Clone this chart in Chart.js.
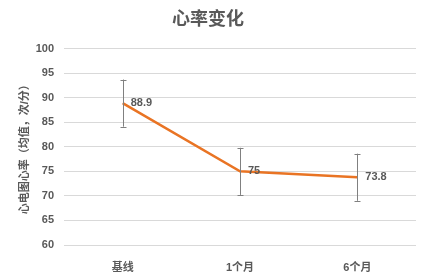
<!DOCTYPE html>
<html><head><meta charset="utf-8">
<script src="https://cdn.jsdelivr.net/npm/chart.js@4"></script>
<style>html,body{margin:0;padding:0;background:#fff}#w{width:425px;height:277px}</style>
</head><body><div id="w"><canvas id="c"></canvas></div>
<script>
const categories = ['基线', '1个月', '6个月'];
const meanValues = [88.9, 75, 73.8];
const errorValues = [4.8, 4.8, 4.8];
const yTicks = [60, 65, 70, 75, 80, 85, 90, 95, 100];

const FONT = '"Liberation Sans", "Noto Sans CJK SC", sans-serif';
const GRAY = '#595959';

const errorBarPlugin = {
  id: 'errorBars',
  afterDatasetsDraw(chart) {
    const ctx = chart.ctx, meta = chart.getDatasetMeta(0), y = chart.scales.y;
    ctx.save();
    ctx.strokeStyle = '#808080';
    ctx.lineWidth = 1;
    meta.data.forEach((pt, i) => {
      const x = Math.round(pt.x) + 0.5;
      const top = y.getPixelForValue(meanValues[i] + errorValues[i]);
      const bot = y.getPixelForValue(meanValues[i] - errorValues[i]);
      ctx.beginPath();
      ctx.moveTo(x, top); ctx.lineTo(x, bot);
      ctx.moveTo(x - 3, Math.round(top) + 0.5); ctx.lineTo(x + 3, Math.round(top) + 0.5);
      ctx.moveTo(x - 3, Math.round(bot) + 0.5); ctx.lineTo(x + 3, Math.round(bot) + 0.5);
      ctx.stroke();
    });
    ctx.fillStyle = GRAY;
    ctx.font = 'bold 11px ' + FONT;
    ctx.textBaseline = 'middle';
    ctx.textAlign = 'left';
    meta.data.forEach((pt, i) => {
      ctx.fillText(String(meanValues[i]), pt.x + 8, pt.y);
    });
    ctx.restore();
  }
};

new Chart(document.getElementById('c'), {
  type: 'line',
  data: {
    labels: categories,
    datasets: [{
      data: meanValues,
      borderColor: '#E97424',
      borderWidth: 2.5,
      pointRadius: 0,
      tension: 0,
      fill: false
    }]
  },
  options: {
    responsive: true,
    maintainAspectRatio: false,
    animation: false,
    layout: { padding: { left: 0, right: 9, top: 0, bottom: 0 } },
    plugins: {
      legend: { display: false },
      tooltip: { enabled: false },
      title: {
        display: true,
        text: '心率变化',
        color: GRAY,
        font: { family: FONT, size: 18, weight: 'bold' },
        padding: { top: 9, bottom: 18 }
      }
    },
    scales: {
      x: {
        offset: true,
        grid: { display: false },
        border: { display: false },
        ticks: { color: GRAY, font: { family: FONT, size: 11, weight: 'bold' }, padding: 8 },
        afterFit(s) { s.height = 32; }
      },
      y: {
        min: 60, max: 100,
        afterBuildTicks(s) { s.ticks = yTicks.map(v => ({ value: v })); },
        grid: { color: '#D9D9D9', drawTicks: false },
        border: { display: false },
        ticks: { color: GRAY, font: { family: FONT, size: 11, weight: 'bold' }, padding: 10 },
        title: {
          display: true,
          text: '心电图心率（均值，次/分）',
          color: GRAY,
          font: { family: FONT, size: 11, weight: 'bold' },
          padding: { top: 18, bottom: 4 }
        },
        afterFit(s) { s.width = 64; }
      }
    }
  },
  plugins: [errorBarPlugin]
});
</script>
</body></html>
